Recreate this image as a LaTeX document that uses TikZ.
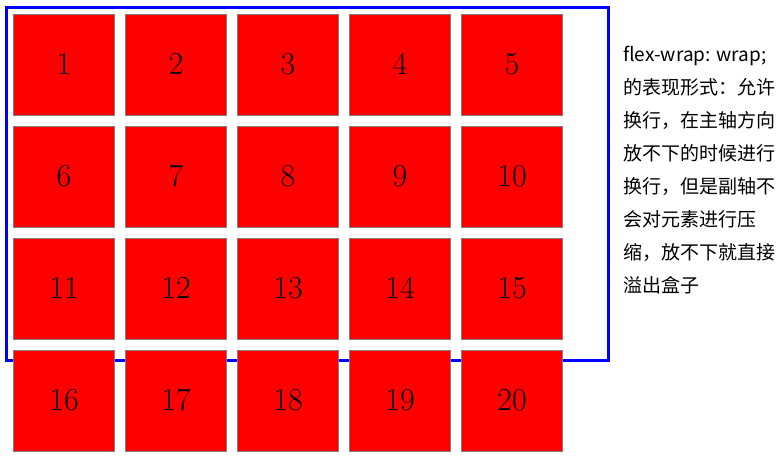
\documentclass[tikz,border=0pt]{standalone}
\usepackage{fontspec}
\newfontfamily\cjkfont{Noto Sans CJK SC}
\usetikzlibrary{positioning}

\begin{document}
\begin{tikzpicture}[x=1pt,y=-1pt,
  item/.style={draw=gray,fill=red,line width=1pt,minimum size=101pt,inner sep=0pt,text height=19pt,text depth=0pt,font=\fontsize{32}{38}\selectfont},
  note/.style={anchor=base west,inner sep=0pt,font=\cjkfont\fontsize{19}{23}\selectfont}]
   \useasboundingbox (0,0) rectangle (781,468);
   \node (wrapbox) [draw=blue,line width=3pt,minimum width=602pt,minimum height=352.5pt,anchor=north west,inner sep=0pt,outer sep=0pt] at (6.5,7.5) {};
   \foreach \r in {0,...,3}
   	\foreach \c in {1,...,5}{
   		\pgfmathtruncatemacro{\n}{5*\r+\c}
   		\node (b-\n) [item] at (64+112*\c-112,65+112*\r) {\n};
   	}
   \foreach \txt [count=\i from 0] in {{flex-wrap: wrap;},的表现形式：允许,换行，在主轴方向,放不下的时候进行,换行，但是副轴不,会对元素进行压,缩，放不下就直接,溢出盒子}
   	\node (note-\i) [note] at (623,62+32.86*\i) {\txt};
\end{tikzpicture}
\end{document}
